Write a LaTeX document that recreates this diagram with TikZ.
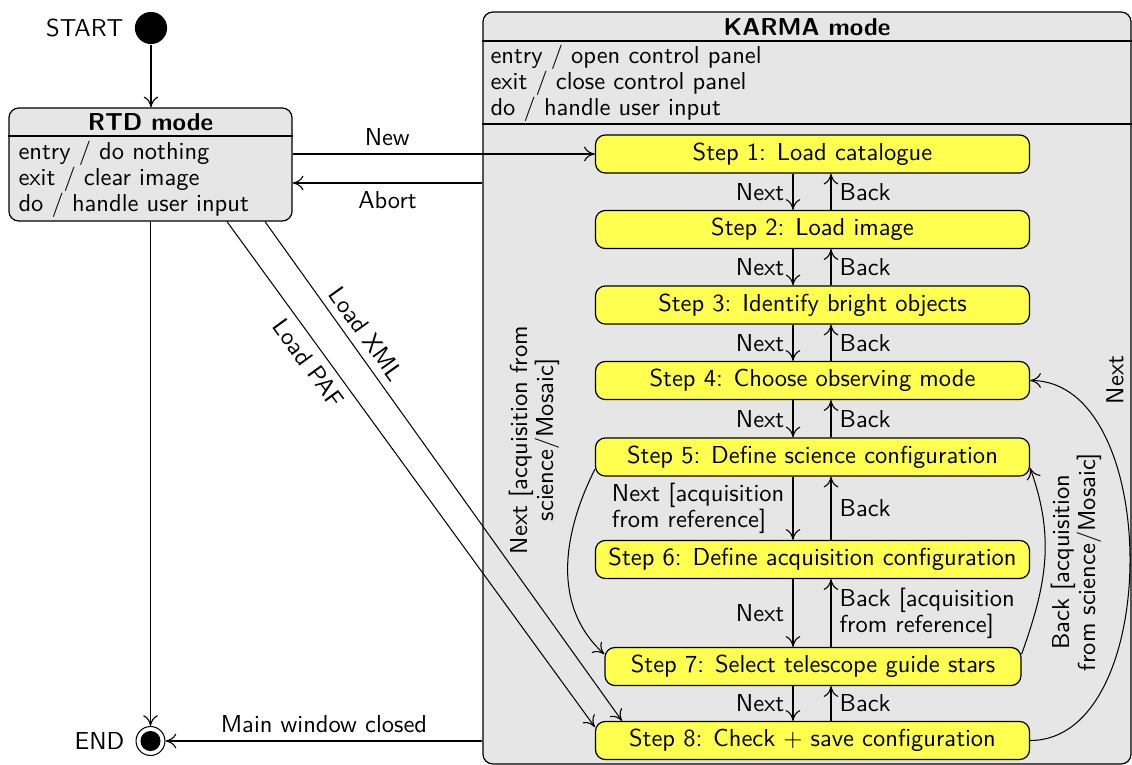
\documentclass[tikz,border=0pt]{standalone}
\usetikzlibrary{calc,arrows.meta}
\definecolor{stepyellow}{RGB}{255,255,80}
\definecolor{modegray}{RGB}{230,230,230}
\begin{document}
\begin{tikzpicture}[x=0.408pt,y=-0.408pt,
  >={Computer Modern Rightarrow[length=4.4pt,width=6pt,line width=0.45pt]},
  line width=0.42pt,
  font=\fontsize{10pt}{10.6pt}\selectfont\sffamily,
  gbox/.style={draw, line width=0.5pt, fill=modegray, rounded corners=4pt, inner sep=0pt},
  stepbox/.style={draw, line width=0.5pt, fill=stepyellow, rounded corners=4pt, minimum width=177.1pt, minimum height=15.5pt, inner sep=0pt},
  pseudo/.style={circle, fill=black, inner sep=0pt},
  txt/.style={inner sep=0pt, anchor=west},
  hdr/.style={font=\fontsize{10pt}{10.6pt}\selectfont\sffamily\bfseries},
]
\useasboundingbox (0,0) rectangle (1132,765);

% helper coordinates
\coordinate (rh) at (0,136);
\coordinate (kh1) at (0,41);
\coordinate (kh2) at (0,124);
\coordinate (dn) at (793,0);
\coordinate (up) at (831,0);
\coordinate (ab) at (0,183);
\coordinate (xa) at (265,0);
\coordinate (xb) at (622,0);
\coordinate (pa) at (227,0);

% START
\node[pseudo, minimum size=13.1pt] (start) at (151,28) {};
\node[anchor=east, xshift=-1pt] (starttxt) at (start.west) {START};

% RTD mode
\node[gbox, minimum width=115.5pt, minimum height=46.1pt] (rtd) at (150.5,164.5) {};
\draw[line width=0.5pt] (rtd.west |- rh) -- (rtd.east |- rh);
\node[hdr] (rtdh) at (150.5,122) {RTD mode};
\node[txt] (rtd1) at (18,153) {entry / do nothing};
\node[txt] (rtd2) at (18,179) {exit / clear image};
\node[txt] (rtd3) at (18,205) {do / handle user input};

% KARMA mode
\node[gbox, minimum width=264.4pt, minimum height=306.8pt] (karma) at (807,388) {};
\draw[line width=0.5pt] (karma.west |- kh1) -- (karma.east |- kh1);
\draw[line width=0.5pt] (karma.west |- kh2) -- (karma.east |- kh2);
\node[hdr] (karmah) at (807,27) {KARMA mode};
\node[txt] (k1) at (490,57) {entry / open control panel};
\node[txt] (k2) at (490,83) {exit / close control panel};
\node[txt] (k3) at (490,109) {do / handle user input};

% Steps
\node[stepbox] (s1) at (812.5,154) {Step 1: Load catalogue};
\node[stepbox] (s2) at (812.5,229.5) {Step 2: Load image};
\node[stepbox] (s3) at (812.5,305) {Step 3: Identify bright objects};
\node[stepbox] (s4) at (812.5,380.5) {Step 4: Choose observing mode};
\node[stepbox] (s5) at (812.5,457) {Step 5: Define science configuration};
\node[stepbox] (s6) at (812.5,559.5) {Step 6: Define acquisition configuration};
\node[stepbox, minimum width=169.7pt] (s7) at (813,666.5) {Step 7: Select telescope guide stars};
\node[stepbox] (s8) at (812.5,740.5) {Step 8: Check + save configuration};

% END
\node[circle, draw, minimum size=11.8pt, inner sep=0pt] (end) at (150.5,741) {};
\node[pseudo, minimum size=8.2pt] (endin) at (end) {};
\node[anchor=east, xshift=-1pt] (endtxt) at (end.west) {END};

% connectors outside
\draw[->] (start) -- (start |- rtd.north);
\draw[->] (rtd.south -| end) -- (end);
\draw[->] (rtd.east |- s1.west) -- (s1.west) node[pos=0.313, above] (newl) {New};
\draw[->] (karma.west |- ab) -- (rtd.east |- ab) node[midway, below] (abortl) {Abort};
\draw[->] (karma.west |- end) -- (end) node[midway, above] (mwc) {Main window closed};
\draw[->] (rtd.south -| xa) -- (s8.north -| xb) node[pos=0.245, sloped, above] (xmll) {Load XML};
\draw[->] (rtd.south -| pa) -- ([yshift=-2.5pt]s8.north west) node[pos=0.26, sloped, below] (pafl) {Load PAF};

% step transitions
\draw[->] (s1.south -| dn) -- (s2.north -| dn) node[midway, left] {Next};
\draw[->] (s2.north -| up) -- (s1.south -| up) node[midway, right] {Back};
\draw[->] (s2.south -| dn) -- (s3.north -| dn) node[midway, left] {Next};
\draw[->] (s3.north -| up) -- (s2.south -| up) node[midway, right] {Back};
\draw[->] (s3.south -| dn) -- (s4.north -| dn) node[midway, left] {Next};
\draw[->] (s4.north -| up) -- (s3.south -| up) node[midway, right] {Back};
\draw[->] (s4.south -| dn) -- (s5.north -| dn) node[midway, left] {Next};
\draw[->] (s5.north -| up) -- (s4.south -| up) node[midway, right] {Back};
\draw[->] (s5.south -| dn) -- (s6.north -| dn) node[midway, left, align=left] {Next [acquisition\\from reference]};
\draw[->] (s6.north -| up) -- (s5.south -| up) node[midway, right] {Back};
\draw[->] (s6.south -| dn) -- (s7.north -| dn) node[midway, left] {Next};
\draw[->] (s7.north -| up) -- (s6.south -| up) node[midway, right, align=left] {Back [acquisition\\from reference]};
\draw[->] (s7.south -| dn) -- (s8.north -| dn) node[midway, left] {Next};
\draw[->] (s8.north -| up) -- (s7.south -| up) node[midway, right] {Back};

% curved transitions
\draw[->] (s8.east) .. controls +(133,0) and +(133,0) .. (s4.east);
\node[rotate=90] (rnext) at (1115,380) {Next};
\draw[->] ([yshift=-3pt]s7.north east) .. controls +(25,-70) and +(25,70) .. ([yshift=3.5pt]s5.south east);
\node[rotate=90, align=center] (lback) at (1076,562) {Back [acquisition\\from science/Mosaic]};
\draw[->] ([yshift=3pt]s5.south west) .. controls +(-30,60) and +(-55,-50) .. ([yshift=-3pt]s7.north west);
\node[rotate=90, align=center] (lnext) at (534,440) {Next [acquisition from\\science/Mosaic]};
\end{tikzpicture}
\end{document}
